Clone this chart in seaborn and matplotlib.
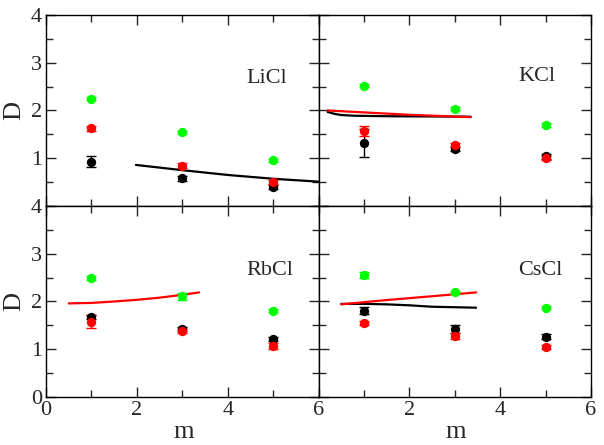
import matplotlib
matplotlib.use("Agg")
import matplotlib.pyplot as plt
import seaborn as sns
import numpy as np
import pandas as pd
from matplotlib.ticker import MultipleLocator

# Концентрации m, при которых есть точки
m_points = [1, 3, 5]

# LiCl
licl_green = [2.25, 1.54, 0.96]
licl_red = [1.63, 0.84, 0.50]
licl_black = [0.93, 0.58, 0.40]
licl_green_err = [0.03, 0.03, 0.03]
licl_red_err = [0.05, 0.05, 0.04]
licl_black_err = [0.12, 0.05, 0.04]
licl_black_line_m = [1.98, 3.0, 4.0, 5.0, 6.0]
licl_black_line_d = [0.86, 0.75, 0.65, 0.57, 0.51]

# KCl
kcl_green = [2.52, 2.04, 1.69]
kcl_red = [1.57, 1.27, 1.00]
kcl_black = [1.32, 1.19, 1.04]
kcl_green_err = [0.03, 0.04, 0.04]
kcl_red_err = [0.10, 0.04, 0.04]
kcl_black_err = [0.30, 0.04, 0.05]
kcl_red_line_m = [0.2, 1.0, 2.0, 3.35]
kcl_red_line_d = [2.0, 1.96, 1.91, 1.86]
kcl_black_line_m = [0.2, 0.35, 0.5, 0.8, 1.5, 2.5, 3.35]
kcl_black_line_d = [1.97, 1.93, 1.905, 1.89, 1.88, 1.875, 1.87]

# RbCl
rbcl_green = [2.50, 2.11, 1.81]
rbcl_red = [1.58, 1.38, 1.07]
rbcl_black = [1.67, 1.42, 1.21]
rbcl_green_err = [0.04, 0.07, 0.04]
rbcl_red_err = [0.13, 0.05, 0.07]
rbcl_black_err = [0.04, 0.04, 0.04]
rbcl_red_line_m = [0.5, 1.0, 1.5, 2.0, 2.5, 3.0, 3.37]
rbcl_red_line_d = [1.96, 1.97, 2.0, 2.035, 2.08, 2.14, 2.19]

# CsCl
cscl_green = [2.55, 2.19, 1.87]
cscl_red = [1.55, 1.27, 1.04]
cscl_black = [1.81, 1.42, 1.26]
cscl_green_err = [0.06, 0.04, 0.03]
cscl_red_err = [0.04, 0.06, 0.04]
cscl_black_err = [0.07, 0.08, 0.05]
cscl_red_line_m = [0.5, 1.5, 2.5, 3.47]
cscl_red_line_d = [1.94, 2.03, 2.11, 2.19]
cscl_black_line_m = [0.5, 1.0, 1.5, 2.0, 2.5, 3.0, 3.47]
cscl_black_line_d = [1.95, 1.95, 1.94, 1.92, 1.89, 1.88, 1.87]

panel_names = ["LiCl", "KCl", "RbCl", "CsCl"]

GREEN = "#00ff00"
RED = "#ff0000"
BLACK = "#000000"

sns.set_style("ticks")
plt.rcParams["font.family"] = ["Liberation Serif", "TeX Gyre Termes", "DejaVu Serif"]
plt.rcParams["axes.linewidth"] = 1.0

fig, axes = plt.subplots(2, 2, figsize=(6.04, 4.45), dpi=100)
fig.subplots_adjust(left=0.0762, right=0.9785, top=0.9663, bottom=0.1079,
                    wspace=0, hspace=0)


def draw_points(ax, d, err, color):
    df = pd.DataFrame({"m": m_points, "D": d})
    ax.errorbar(m_points, d, yerr=err, fmt="none", ecolor=color,
                elinewidth=1.0, capsize=3.5, capthick=1.0, zorder=3)
    sns.scatterplot(data=df, x="m", y="D", color=color, s=45,
                    edgecolor=color, linewidth=0, ax=ax, zorder=4)


def draw_line(ax, m, d, color):
    df = pd.DataFrame({"m": m, "D": d})
    sns.lineplot(data=df, x="m", y="D", color=color, linewidth=1.6,
                 ax=ax, zorder=2)


panels = [
    (axes[0, 0], licl_green, licl_red, licl_black,
     licl_green_err, licl_red_err, licl_black_err),
    (axes[0, 1], kcl_green, kcl_red, kcl_black,
     kcl_green_err, kcl_red_err, kcl_black_err),
    (axes[1, 0], rbcl_green, rbcl_red, rbcl_black,
     rbcl_green_err, rbcl_red_err, rbcl_black_err),
    (axes[1, 1], cscl_green, cscl_red, cscl_black,
     cscl_green_err, cscl_red_err, cscl_black_err),
]
# позиции подписей солей внутри панелей (в долях осей)
name_pos = [(0.886, 0.67), (0.868, 0.68), (0.908, 0.66), (0.897, 0.66)]

# Теоретические кривые
draw_line(axes[0, 0], licl_black_line_m, licl_black_line_d, BLACK)
draw_line(axes[0, 1], kcl_black_line_m, kcl_black_line_d, BLACK)
draw_line(axes[0, 1], kcl_red_line_m, kcl_red_line_d, RED)
draw_line(axes[1, 0], rbcl_red_line_m, rbcl_red_line_d, RED)
draw_line(axes[1, 1], cscl_black_line_m, cscl_black_line_d, BLACK)
draw_line(axes[1, 1], cscl_red_line_m, cscl_red_line_d, RED)

for (ax, g, r, b, ge, re, be), name, pos in zip(panels, panel_names, name_pos):
    draw_points(ax, g, ge, GREEN)
    draw_points(ax, b, be, BLACK)
    draw_points(ax, r, re, RED)

    ax.set_xlim(0, 6)
    ax.set_ylim(0, 4)
    ax.xaxis.set_major_locator(MultipleLocator(2))
    ax.xaxis.set_minor_locator(MultipleLocator(1))
    ax.yaxis.set_major_locator(MultipleLocator(1))
    ax.yaxis.set_minor_locator(MultipleLocator(0.5))
    ax.tick_params(which="both", direction="in", top=True, right=True,
                   labelsize=16, width=1.0, pad=3)
    ax.tick_params(which="major", length=7)
    ax.tick_params(which="minor", length=5)
    for s in ax.spines.values():
        s.set_visible(True)
        s.set_color("black")
    ax.set_xlabel("")
    ax.set_ylabel("")
    ax.text(pos[0], pos[1], name, transform=ax.transAxes, ha="right",
            va="center", fontsize=16)

# Подписи осей только снаружи
for ax in axes[0, :]:
    ax.tick_params(labelbottom=False)
for ax in axes[:, 1]:
    ax.tick_params(labelleft=False)
axes[0, 0].set_yticks([1, 2, 3, 4])
axes[1, 1].set_xticks([2, 4, 6])

for ax in axes[:, 0]:
    ax.set_ylabel("D", fontsize=19)
    ax.yaxis.set_label_coords(-0.076, 0.5)
for ax in axes[1, :]:
    ax.set_xlabel("m", fontsize=19)
    ax.xaxis.set_label_coords(0.505, -0.125)

fig.savefig("out.png", dpi=100)
